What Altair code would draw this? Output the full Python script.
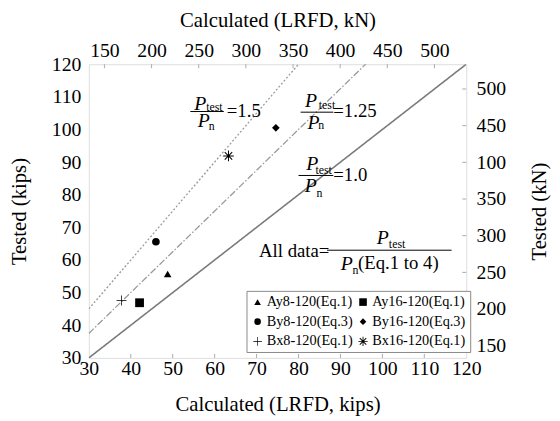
import altair as alt
import pandas as pd

# ---------------- data ----------------
series = ["Ay8-120(Eq.1)", "Ay16-120(Eq.1)", "By8-120(Eq.3)",
          "By16-120(Eq.3)", "Bx8-120(Eq.1)", "Bx16-120(Eq.1)"]
calc_kips = [48.8, 42.1, 46.0, 74.6, 37.8, 63.3]
tested_kips = [55.7, 46.9, 65.6, 100.5, 47.6, 91.9]
PLUS = ("M-1.3,-0.1L-0.1,-0.1L-0.1,-1.3L0.1,-1.3L0.1,-0.1L1.3,-0.1L1.3,0.1"
        "L0.1,0.1L0.1,1.3L-0.1,1.3L-0.1,0.1L-1.3,0.1Z")
STAR = ("M-1.4,-0.13L1.4,-0.13L1.4,0.13L-1.4,0.13Z"
        "M-0.13,-1.4L0.13,-1.4L0.13,1.4L-0.13,1.4Z"
        "M-0.88,-1.07L1.07,0.88L0.88,1.07L-1.07,-0.88Z"
        "M-1.07,0.88L0.88,-1.07L1.07,-0.88L-0.88,1.07Z")
SQUARE = "M-1.15,-1.15L1.15,-1.15L1.15,1.15L-1.15,1.15Z"
shapes = ["triangle-up", SQUARE, "circle", "diamond", PLUS, STAR]

ratios = [1.0, 1.25, 1.5]
ratio_x = [30, 120]
kips_ticks = [30, 40, 50, 60, 70, 80, 90, 100, 110, 120]
kn_ticks = [150, 200, 250, 300, 350, 400, 450, 500]
KIP_TO_KN = 4.448

# annotation pieces (text, x, y) in kips coordinates
ann_text = ["=1.5", "=1.25", "=1.0", "All data=", "(Eq.1 to 4)"]
ann_text_x = [62.9, 88.3, 88.3, 70.6, 94.2]
ann_text_y = [105.5, 105.7, 85.9, 62.7, 59.2]
ann_p_x = [56.55, 83.0, 57.4, 83.6, 83.3, 82.9, 100.1, 91.5]
ann_p_y = [107.9, 108.7, 102.5, 102.0, 89.4, 82.6, 66.8, 58.7]
ann_sub = ["test", "test", "test", "test", "n", "n", "n", "n"]
ann_sub_x = [59.95, 86.8, 86.0, 103.5, 59.3, 85.4, 85.0, 93.6]
ann_sub_y = [107.0, 107.6, 87.7, 65.0, 101.0, 101.2, 80.6, 57.0]
frac_x1 = [54.2, 80.5, 80.0, 86.8]
frac_x2 = [62.2, 88.3, 88.3, 116.5]
frac_y = [105.5, 105.3, 85.9, 63.0]

# ---------------- style ----------------
FONT = "Liberation Serif, Times New Roman, serif"
W, H = 383, 298
BORDER = "#aaaaaa"

xs = alt.Scale(domain=[30, 120], nice=False, zero=False)
ys = alt.Scale(domain=[30, 120], nice=False, zero=False)
kn_dom = [30 * KIP_TO_KN, 120 * KIP_TO_KN]

common_axis = dict(labelFont=FONT, titleFont=FONT, labelFontSize=20,
                   titleFontSize=21, titleFontWeight="normal",
                   labelColor="black", titleColor="black", grid=False,
                   domain=False, ticks=False, labelFlush=False,
                   labelOverlap=False)

xa = alt.Axis(values=kips_ticks, title="Calculated (LRFD, kips)",
              labelPadding=1, titlePadding=15, **common_axis)
ya = alt.Axis(values=kips_ticks, title="Tested (kips)",
              labelPadding=8, titlePadding=22, **common_axis)


def X(field):
    return alt.X(field, type="quantitative", scale=xs, axis=xa)


def Y(field):
    return alt.Y(field, type="quantitative", scale=ys, axis=ya)


# ratio lines
styles = {1.0: ([1, 0], "#7a7a7a", 1.6),
          1.25: ([7, 2, 1.5, 2], "#999999", 1.3),
          1.5: ([2, 2], "#999999", 1.3)}
line_layers = []
for r in ratios:
    dash, col, w = styles[r]
    df = pd.DataFrame({"x": ratio_x, "y": [r * v for v in ratio_x]})
    line_layers.append(
        alt.Chart(df).mark_line(clip=True, color=col, strokeWidth=w,
                                strokeDash=dash).encode(x=X("x"), y=Y("y")))

# bottom inward ticks
bt = pd.DataFrame({"x": kips_ticks[1:-1]})
bottom_ticks = alt.Chart(bt).mark_rule(color=BORDER, strokeWidth=1).encode(
    x=X("x"), y=alt.value(H), y2=alt.value(H - 4))

# points
pts = pd.DataFrame({"series": series, "calc": calc_kips, "tested": tested_kips})
points = alt.Chart(pts).mark_point(filled=True, fill="black", opacity=1,
                                   size=60).encode(
    x=X("calc"), y=Y("tested"),
    shape=alt.Shape("series:N", scale=alt.Scale(domain=series, range=shapes),
                    legend=alt.Legend(orient="none", legendX=160, legendY=230,
                                      direction="horizontal",
                                      columns=2, title=None, labelFont=FONT,
                                      labelFontSize=14.5, labelColor="black",
                                      strokeColor="#888888", fillColor="white",
                                      padding=4, symbolSize=45,
                                      columnPadding=3, rowPadding=5,
                                      labelOffset=2,
                                      symbolFillColor="black",
                                      symbolStrokeColor="black",
                                      symbolStrokeWidth=0)))

# annotations
t_df = pd.DataFrame({"t": ann_text, "x": ann_text_x, "y": ann_text_y})
texts = alt.Chart(t_df).mark_text(font=FONT, fontSize=19, align="left",
                                  baseline="middle", color="black").encode(
    x=X("x"), y=Y("y"), text="t:N")
p_df = pd.DataFrame({"t": ["P"] * len(ann_p_x), "x": ann_p_x, "y": ann_p_y})
ptexts = alt.Chart(p_df).mark_text(font=FONT, fontSize=20, fontStyle="italic",
                                   align="center", baseline="middle",
                                   color="black").encode(
    x=X("x"), y=Y("y"), text="t:N")
s_df = pd.DataFrame({"t": ann_sub, "x": ann_sub_x, "y": ann_sub_y})
stexts = alt.Chart(s_df).mark_text(font=FONT, fontSize=12, align="center",
                                   baseline="middle", color="black").encode(
    x=X("x"), y=Y("y"), text="t:N")
f_df = pd.DataFrame({"x1": frac_x1, "x2": frac_x2, "y": frac_y})
fracs = alt.Chart(f_df).mark_rule(color="black", strokeWidth=1).encode(
    x=X("x1"), x2="x2:Q", y=Y("y"))

kips_layer = alt.layer(*line_layers, bottom_ticks, fracs, texts, ptexts,
                       stexts, points)

# kN axes (top and right)
kn_df = pd.DataFrame({"kn": kn_ticks})
kn_scale = alt.Scale(domain=kn_dom, nice=False, zero=False)
top = alt.Chart(kn_df).mark_rule(color=BORDER, strokeWidth=1).encode(
    x=alt.X("kn:Q", scale=kn_scale,
            axis=alt.Axis(orient="top", values=kn_ticks,
                          title="Calculated (LRFD, kN)", labelPadding=4,
                          titlePadding=10, **common_axis)),
    y=alt.value(0), y2=alt.value(4))
right = alt.Chart(kn_df).mark_rule(color=BORDER, strokeWidth=1).encode(
    y=alt.Y("kn:Q", scale=kn_scale,
            axis=alt.Axis(orient="right", values=kn_ticks,
                          title="Tested (kN)", labelPadding=10,
                          titlePadding=44, titleAngle=270,
                          labelExpr="datum.value == 400 ? '100' : datum.label",
                          **common_axis)),
    x=alt.value(W), x2=alt.value(W - 4))
kn_layer = alt.layer(top, right)

chart = alt.layer(kips_layer, kn_layer).resolve_scale(
    x="independent", y="independent").properties(
    width=W, height=H,
    autosize=alt.AutoSizeParams(type="none"),
    padding={"left": 82, "top": 54, "right": 87, "bottom": 61},
).configure_view(stroke=BORDER, strokeWidth=1.5).configure(background="white")

chart.save("out.html", embed_options={"renderer": "svg", "actions": False})
